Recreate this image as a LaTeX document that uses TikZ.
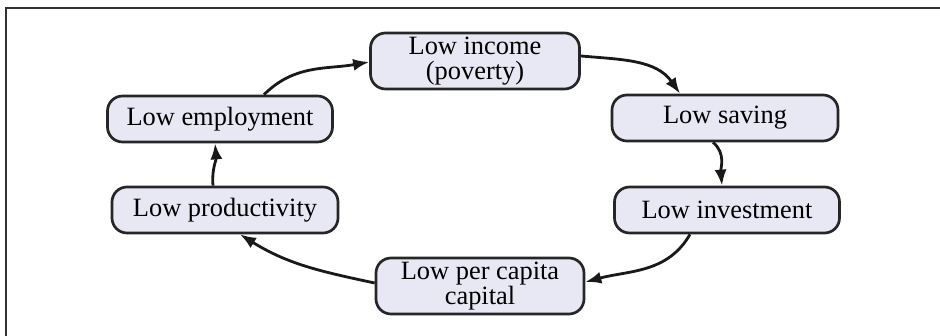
\documentclass[tikz,border=0pt]{standalone}
\usepackage{fontspec}
\setmainfont{Liberation Serif}
\usetikzlibrary{arrows.meta}
\definecolor{boxfill}{RGB}{232,232,244}
\definecolor{framegray}{RGB}{50,50,50}
\begin{document}
\begin{tikzpicture}[x=1pt, y=1pt,
                    box/.style={draw=black!85, line width=2.7pt, fill=boxfill,
                                rounded corners=15pt, inner sep=0pt,
                                minimum height=46pt, align=center,
                                font=\fontsize{26.4}{25}\selectfont},
                    arr/.style={line width=2.8pt, black!90,
                                -{Latex[length=16pt, width=12pt]}}]
    \useasboundingbox (0,0) rectangle (940,336);
    \draw[framegray, line width=1.6pt] (6,-5) -- (6,328) -- (945,328);

    \node[box, minimum width=209pt, minimum height=56pt] (inc)  at (475,275) {Low income\\(poverty)};
    \node[box, minimum width=225pt] (emp)  at (220,217) {Low employment};
    \node[box, minimum width=226pt] (prod) at (225,126) {Low productivity};
    \node[box, minimum width=226pt] (sav)  at (725,218) {Low saving};
    \node[box, minimum width=225pt] (inv)  at (727,126) {Low investment};
    \node[box, minimum width=208pt, minimum height=56pt] (cap)  at (480,50) {Low per capita\\capital};

    \draw[arr] ([xshift=44pt]emp.north) to[out=45, in=190] ([yshift=-1pt]inc.west);
    \draw[arr] ([yshift=5pt]inc.east) to[out=-5, in=125] ([xshift=-45pt]sav.north);
    \draw[arr] ([xshift=-12pt]sav.south) to[out=-40, in=95] ([xshift=-5pt]inv.north);
    \draw[arr] ([xshift=-37pt]inv.south) to[out=-120, in=15] ([yshift=4pt]cap.east);
    \draw[arr] ([yshift=3pt]cap.west) to[out=168, in=-32] ([xshift=15pt]prod.south);
    \draw[arr] ([xshift=-12pt]prod.north) to[out=95, in=-85] ([xshift=-5pt]emp.south);
\end{tikzpicture}
\end{document}
